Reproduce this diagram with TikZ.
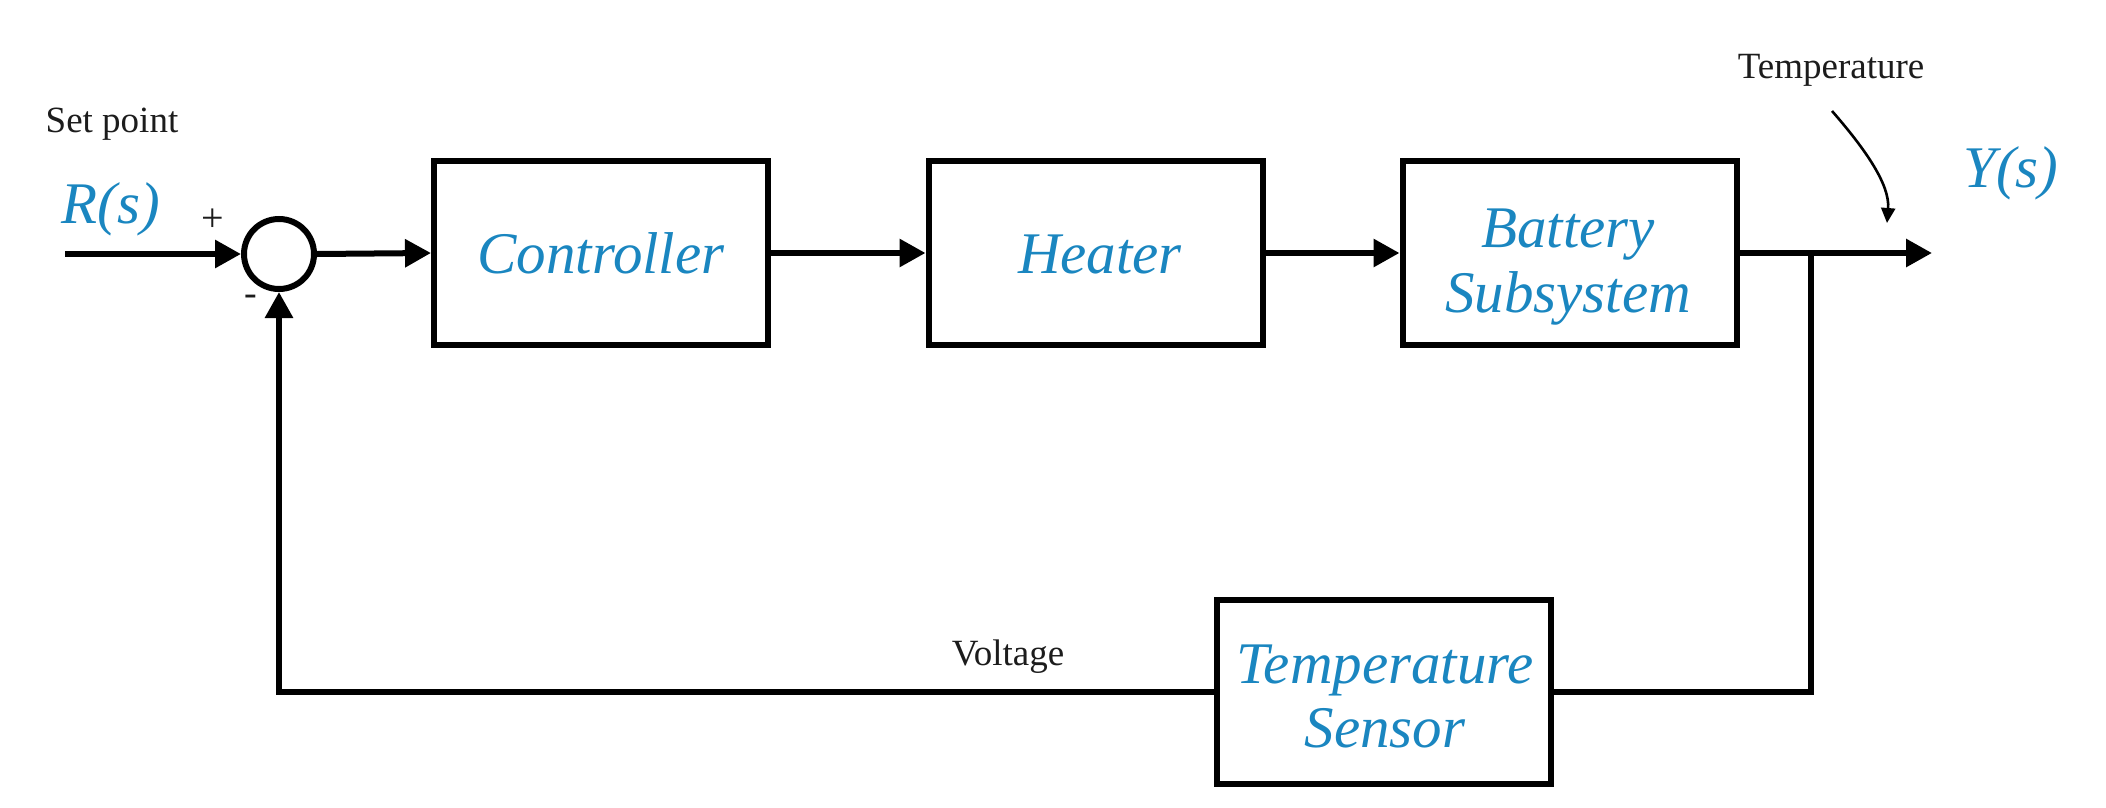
\documentclass[tikz,border=0pt]{standalone}
\usepackage{fontspec}
\setmainfont{Liberation Serif}
\usetikzlibrary{arrows.meta}
\definecolor{myblue}{RGB}{26,134,192}
\definecolor{mygray}{RGB}{28,28,28}
\begin{document}
\begin{tikzpicture}[x=1pt,y=-1pt,
  blk/.style={draw=black, line width=6pt, minimum width=334pt, minimum height=184pt, inner sep=0pt},
  sumnode/.style={draw=black, circle, line width=6pt, minimum size=70pt, inner sep=0pt},
  wire/.style={line width=6pt},
  arr/.style={wire, -{Triangle[length=26pt,width=27pt]}},
  thinarr/.style={line width=2.6pt, -{Triangle[length=15pt,width=14pt]}},
  btxt/.style={text=myblue, font=\fontsize{59}{65}\selectfont\itshape, inner sep=0pt},
  ktxt/.style={text=mygray, font=\fontsize{37}{44}\selectfont, inner sep=0pt}]
\useasboundingbox (0,0) rectangle (2106,808);
% blocks
\node[sumnode] (sum) at (279,254) {};
\node[blk] (ctrl) at (601,253) {};
\node[blk] (heat) at (1095.5,253) {};
\node[blk] (bat) at (1569.5,253) {};
\node[blk] (sens) at (1384,691.5) {};
% block texts
\node[btxt, anchor=base] (ctrlt) at (601,273) {Controller};
\node[btxt, anchor=base] (heatt) at (1100,273) {Heater};
\node[btxt, anchor=base] (batt1) at (1568,247) {Battery};
\node[btxt, anchor=base] (batt2) at (1568,312) {Subsystem};
\node[btxt, anchor=base] (senst1) at (1385,683) {Temperature};
\node[btxt, anchor=base] (senst2) at (1385,747) {Sensor};
% signal labels
\node[ktxt, anchor=base] (setp) at (112,132) {Set point};
\node[btxt, anchor=base] (rs) at (111,223) {R(s)};
\node[btxt, anchor=base] (ys) at (2011,187) {Y(s)};
\node[ktxt, anchor=base] (templ) at (1831,78) {Temperature};
\node[ktxt, anchor=base] (volt) at (1008,665) {Voltage};
\node[text=mygray, font=\fontsize{40}{44}\selectfont, inner sep=0pt] (plus) at (213,220) {+};
\node[text=mygray, font=\fontsize{38}{44}\selectfont, inner sep=0pt] (minus) at (251,300) {-};
% coordinates
\coordinate (in) at (65,254);
\coordinate (br) at (1811,253);
\coordinate (out) at (1932,253);
\coordinate (tstart) at (1832,111);
\coordinate (ttip) at (1887,223);
% connectors
\draw[arr] (in) -- (sum.west);
\draw[arr] (sum.east) -- (ctrl.west);
\draw[arr] (ctrl.east) -- (heat.west);
\draw[arr] (heat.east) -- (bat.west);
\draw[arr] (bat.east) -- (out);
\draw[wire] (br) |- (sens.east);
\draw[arr] (sens.west) -| (sum.south);
\draw[thinarr] (tstart) .. controls (1866,150) and (1890,185) .. (ttip);
\end{tikzpicture}
\end{document}
